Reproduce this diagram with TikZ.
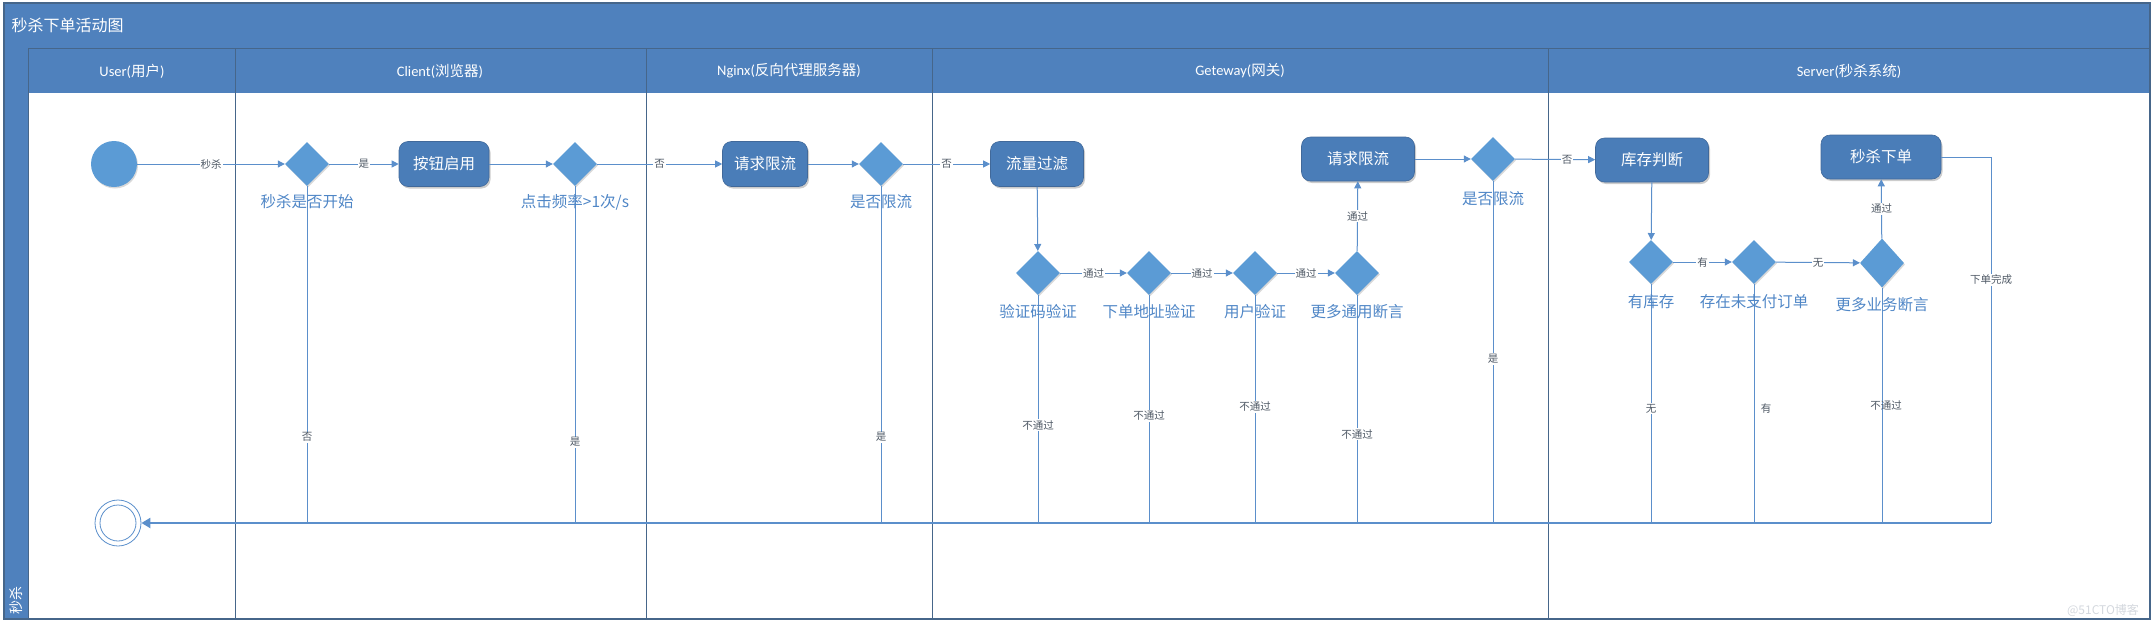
\documentclass[tikz,border=0pt]{standalone}
\usepackage{fontspec}
\setmainfont{Noto Sans CJK SC}
\newfontfamily\latinf{Carlito}
\usetikzlibrary{shapes.geometric,arrows.meta,shadows}
\definecolor{bandblue}{HTML}{4F81BD}
\definecolor{boxblue}{HTML}{4A7DB8}
\definecolor{boxedge}{HTML}{41699A}
\definecolor{diablue}{HTML}{5B9BD5}
\definecolor{lineblue}{HTML}{5B8FCB}
\definecolor{laneline}{HTML}{46668A}
\definecolor{labblue}{HTML}{4F86C6}
\definecolor{edgetext}{HTML}{505A66}
\definecolor{wmark}{HTML}{D4D8DE}
\begin{document}
\begin{tikzpicture}[x=1pt,y=-1pt,
  act/.style={rectangle, rounded corners=9pt, fill=boxblue, draw=boxedge, line width=0.6pt, text=white, minimum width=#1, minimum height=45pt, inner sep=2pt, font=\fontsize{15.5}{18}\selectfont, drop shadow={shadow xshift=1.5pt, shadow yshift=-2pt, opacity=0.2, fill=black}},
  dec/.style={diamond, fill=diablue, minimum width=44pt, minimum height=44pt, inner sep=0pt, drop shadow={shadow xshift=1pt, shadow yshift=-1.5pt, opacity=0.15, fill=black}},
  dlab/.style={text=labblue, font=\fontsize{15.5}{18}\selectfont, inner sep=0pt},
  elab/.style={fill=white, text=edgetext, font=\fontsize{10.5}{12}\selectfont, inner sep=1pt},
  flow/.style={draw=lineblue, line width=1pt, -{Triangle[length=7pt,width=7pt]}},
  link/.style={draw=lineblue, line width=1pt},
  mainln/.style={draw=lineblue, line width=2.2pt, -{Triangle[length=9pt,width=10pt]}},
  lane/.style={draw=laneline, line width=0.9pt},
  hdr/.style={text=white, font=\fontsize{14.5}{17}\selectfont},
]
\useasboundingbox (0,0) rectangle (2156,627);
% frame and bands
\fill[bandblue] (4,3) rectangle (2150,48);
\fill[bandblue] (4,48) rectangle (2150,93);
\fill[bandblue] (4,48) rectangle (28,619);
\draw[laneline, line width=0.7pt] (28,48) -- (2150,48);
\draw[laneline, line width=1.2pt] (4,3) rectangle (2150,619);
\foreach \xx in {28,235,646,932,1548} {\draw[lane] (\xx,48) -- (\xx,619);}
\node[hdr, anchor=west, font=\fontsize{16}{18}\selectfont] (title) at (8,25) {秒杀下单活动图};
\node[hdr] (h1) at (132,71) {{\latinf User(}用户{\latinf )}};
\node[hdr] (h2) at (440,71) {{\latinf Client(}浏览器{\latinf )}};
\node[hdr] (h3) at (789,71) {{\latinf Nginx(}反向代理服务器{\latinf )}};
\node[hdr] (h4) at (1240,71) {{\latinf Geteway(}网关{\latinf )}};
\node[hdr] (h5) at (1849,71) {{\latinf Server(}秒杀系统{\latinf )}};
\node[hdr, rotate=90, font=\fontsize{14}{16}\selectfont] (pool) at (16,600) {秒杀};

% nodes
\node[circle, fill=diablue, minimum size=46pt, inner sep=0pt, drop shadow={shadow xshift=1pt, shadow yshift=-1.5pt, opacity=0.15, fill=black}] (start) at (114,164) {};
\node[dec] (d1) at (307,164) {};
\node[dec] (d2) at (575,164) {};
\node[dec] (d3) at (881,164) {};
\node[act=90pt] (b1) at (444,164) {按钮启用};
\node[act=85pt] (b2) at (765,164) {请求限流};
\node[act=93pt] (b3) at (1037,164) {流量过滤};
\node[act=113pt, minimum height=44pt] (b4) at (1358,159) {请求限流};
\node[act=113pt, minimum height=44pt] (b5) at (1652,160) {库存判断};
\node[act=120pt, minimum height=44pt] (b6) at (1881,157) {秒杀下单};
\node[dec] (v1) at (1038,273) {};
\node[dec] (v2) at (1149,273) {};
\node[dec] (v3) at (1255,273) {};
\node[dec] (v4) at (1357,273) {};
\node[dec] (dg) at (1493,159) {};
\node[dec] (s1) at (1651,262) {};
\node[dec] (s2) at (1754,262) {};
\node[dec, minimum height=49pt] (s3) at (1882,263) {};
\node[circle, draw=lineblue, line width=0.8pt, minimum size=46pt, inner sep=0pt] (endc) at (118,523) {};
\draw[lineblue, line width=0.8pt] (endc.center) circle (18);

\coordinate (ybot) at (0,523);
\coordinate (rx) at (1991,157);
\coordinate (rc) at (1991,523);

% vertical lines to the merge line (drawn first, labels over them)
\draw[link] (d1.south) -- node[elab, pos=0.745]{否} (d1.south |- ybot);
\draw[link] (d2.south) -- node[elab, pos=0.76]{是} (d2.south |- ybot);
\draw[link] (d3.south) -- node[elab, pos=0.745]{是} (d3.south |- ybot);
\draw[link] (v1.south) -- node[elab, pos=0.57]{不通过} (v1.south |- ybot);
\draw[link] (v2.south) -- node[elab, pos=0.53]{不通过} (v2.south |- ybot);
\draw[link] (v3.south) -- node[elab, pos=0.49]{不通过} (v3.south |- ybot);
\draw[link] (v4.south) -- node[elab, pos=0.61]{不通过} (v4.south |- ybot);
\draw[link] (dg.south) -- node[elab, pos=0.52]{是} (dg.south |- ybot);
\draw[link] (s1.south) -- node[elab, pos=0.52]{无} (s1.south |- ybot);
\draw[link] (s2.south) -- node[elab, pos=0.52, xshift=12pt, fill=none]{有} (s2.south |- ybot);
\draw[link] (s3.south) -- node[elab, pos=0.5, xshift=4pt, fill=none]{不通过} (s3.south |- ybot);
\draw[link] (b6.east) -- (rx) -- node[elab, pos=0.336]{下单完成} (rc);
\draw[mainln] (rc) -- (endc);

% diamond labels
\node[dlab] (l1) at (307,202) {秒杀是否开始};
\node[dlab] (l2) at (575,202) {点击频率>1次/s};
\node[dlab] (l3) at (881,202) {是否限流};
\node[dlab] (l4) at (1038,312) {验证码验证};
\node[dlab] (l5) at (1149,312) {下单地址验证};
\node[dlab] (l6) at (1255,312) {用户验证};
\node[dlab] (l7) at (1357,312) {更多通用断言};
\node[dlab] (l8) at (1493,199) {是否限流};
\node[dlab] (l9) at (1651,302) {有库存};
\node[dlab] (l10) at (1754,302) {存在未支付订单};
\node[dlab] (l11) at (1882,305) {更多业务断言};

% flow arrows
\draw[flow] (start) -- node[elab]{秒杀} (d1);
\draw[flow] (d1) -- node[elab]{是} (b1);
\draw[flow] (b1) -- (d2);
\draw[flow] (d2) -- node[elab]{否} (b2);
\draw[flow] (b2) -- (d3);
\draw[flow] (d3) -- node[elab]{否} (b3);
\draw[flow] (b3) -- (v1);
\draw[flow] (v1) -- node[elab]{通过} (v2);
\draw[flow] (v2) -- node[elab]{通过} (v3);
\draw[flow] (v3) -- node[elab]{通过} (v4);
\draw[flow] (v4) -- node[elab, pos=0.5]{通过} (b4);
\draw[flow] (b4) -- (dg);
\draw[flow] (dg) -- node[elab, pos=0.65]{否} (b5);
\draw[flow] (b5) -- (s1);
\draw[flow] (s1) -- node[elab]{有} (s2);
\draw[flow] (s2) -- node[elab]{无} (s3);
\draw[flow] (s3) -- node[elab, pos=0.5]{通过} (b6);

\node[text=wmark, font=\fontsize{12}{14}\selectfont] (wm) at (2103,610) {@51CTO博客};
\end{tikzpicture}
\end{document}
